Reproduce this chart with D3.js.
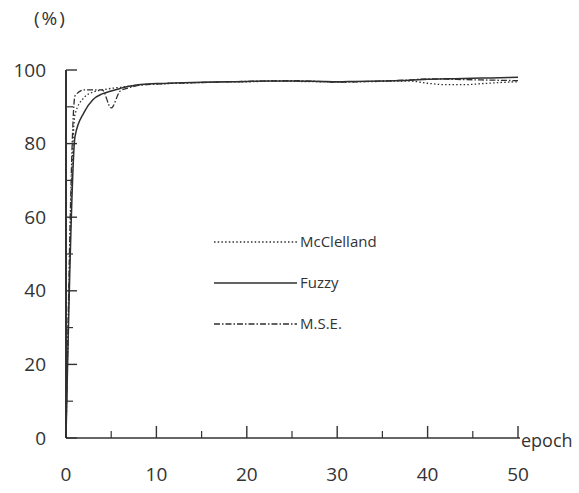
<!DOCTYPE html>
<html>
<head>
<meta charset="utf-8">
<script src="https://cdn.jsdelivr.net/npm/d3@7"></script>
<style>
  html, body { margin: 0; padding: 0; background: #fff; }
  svg { display: block; }
  text { font-family: "Open Sans", "DejaVu Sans", sans-serif; fill: #333; }
</style>
</head>
<body>
<svg id="chart" width="579" height="493"></svg>
<script>
// ---- data ----
const epochs = [0,1,2,3,4,5,6,7,8,10,12,15,18,20,22,25,28,30,32,35,38,40,42,44,46,48,50];
const mcclelland = [0,88,92.5,94,94.6,95,95.3,95.6,95.9,96.2,96.4,96.6,96.8,96.8,96.9,96.9,96.8,96.7,96.8,96.9,97,96.4,96,96,96.3,96.6,96.8];
const fuzzy = [0,82,88.5,92,93.5,94.3,95,95.6,96,96.3,96.5,96.7,96.8,96.9,97,97,96.9,96.8,96.9,97,97.2,97.5,97.6,97.7,97.8,97.9,98];
const mse = [0,93,94.6,94.6,94.6,89.7,94.3,95.2,95.8,96.2,96.4,96.6,96.8,96.9,97,97.1,96.9,96.7,96.8,97,97.3,97.6,97.5,97.4,97.3,97.2,97.1];
const seriesNames = ["McClelland", "Fuzzy", "M.S.E."];
const xTickLabels = [0,10,20,30,40,50];
const yTickLabels = [0,20,40,60,80,100];
const xMinorTicks = [5,15,25,35,45];
const yMinorTicks = [10,30,50,70,90];

// ---- layout ----
const svg = d3.select("#chart");
const x = d3.scaleLinear().domain([0, 50]).range([66, 518]);
const y = d3.scaleLinear().domain([0, 100]).range([438, 70]);
const ink = "#333";

const series = [
  { name: seriesNames[0], values: mcclelland, dash: "1.5,2.2", width: 1.3 },
  { name: seriesNames[1], values: fuzzy, dash: null, width: 1.5 },
  { name: seriesNames[2], values: mse, dash: "6,2,1.5,2", width: 1.3 }
];

// axes lines
const g = svg.append("g");
g.append("line").attr("x1", x(0)).attr("x2", x(0)).attr("y1", y(0)).attr("y2", y(100))
  .attr("stroke", ink).attr("stroke-width", 2);
g.append("line").attr("x1", x(0)).attr("x2", x(50) + 2).attr("y1", y(0)).attr("y2", y(0))
  .attr("stroke", ink).attr("stroke-width", 1.6);

// y ticks (inside, pointing right)
g.selectAll(".ytM").data(yTickLabels).enter().append("line")
  .attr("x1", x(0)).attr("x2", x(0) + 11).attr("y1", d => y(d)).attr("y2", d => y(d))
  .attr("stroke", ink).attr("stroke-width", 1.4);
g.selectAll(".ytm").data(yMinorTicks).enter().append("line")
  .attr("x1", x(0)).attr("x2", x(0) + 7).attr("y1", d => y(d)).attr("y2", d => y(d))
  .attr("stroke", ink).attr("stroke-width", 1.2);
// x ticks (inside, pointing up)
g.selectAll(".xtM").data(xTickLabels.filter(d => d > 0)).enter().append("line")
  .attr("x1", d => x(d)).attr("x2", d => x(d)).attr("y1", y(0)).attr("y2", y(0) - 12)
  .attr("stroke", ink).attr("stroke-width", 1.4);
g.selectAll(".xtm").data(xMinorTicks).enter().append("line")
  .attr("x1", d => x(d)).attr("x2", d => x(d)).attr("y1", y(0)).attr("y2", y(0) - 7)
  .attr("stroke", ink).attr("stroke-width", 1.2);

// tick labels
g.selectAll(".yl").data(yTickLabels).enter().append("text")
  .attr("x", 46).attr("y", d => y(d)).attr("dy", "0.35em")
  .attr("text-anchor", "end").attr("font-size", 19).text(d => d);
g.selectAll(".xl").data(xTickLabels).enter().append("text")
  .attr("x", d => x(d)).attr("y", 481)
  .attr("text-anchor", "middle").attr("font-size", 19).text(d => d);

// axis titles
svg.append("text").attr("x", 34).attr("y", 25).attr("font-size", 19)
  .attr("letter-spacing", 2).text("(%)");
svg.append("text").attr("x", 521).attr("y", 441).attr("dy", "0.35em").attr("font-size", 18).text("epoch");

// lines
const line = d3.line().x((d, i) => x(epochs[i])).y(d => y(d)).curve(d3.curveMonotoneX);
series.forEach(s => {
  svg.append("path").datum(s.values)
    .attr("d", line)
    .attr("fill", "none")
    .attr("stroke", "#2f2f2f")
    .attr("stroke-width", s.width)
    .attr("stroke-dasharray", s.dash);
});

// legend
const legendY = [242, 283, 324];
series.forEach((s, i) => {
  svg.append("line").attr("x1", 214).attr("x2", 297)
    .attr("y1", legendY[i]).attr("y2", legendY[i])
    .attr("stroke", "#2f2f2f").attr("stroke-width", s.width)
    .attr("stroke-dasharray", s.dash);
  svg.append("text").attr("x", 300).attr("y", legendY[i]).attr("dy", "0.35em")
    .attr("font-size", 15).text(s.name);
});
</script>
</body>
</html>
